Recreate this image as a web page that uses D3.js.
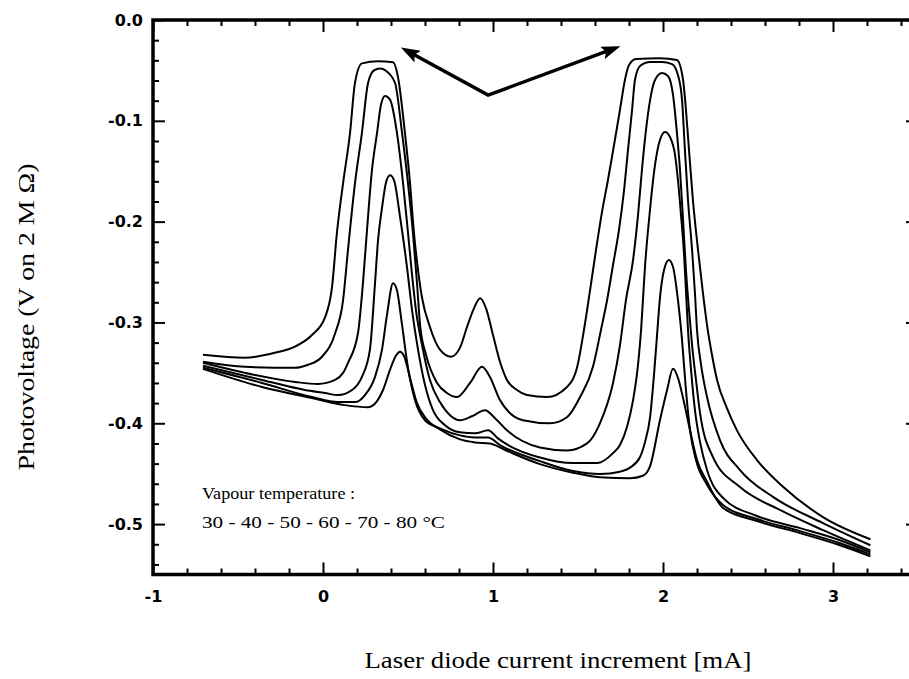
<!DOCTYPE html>
<html>
<head>
<meta charset="utf-8">
<script src="https://cdn.jsdelivr.net/npm/d3@7"></script>
<style>
  body { margin: 0; background: #fff; }
  svg { display: block; }
</style>
</head>
<body>
<svg id="chart" width="909" height="679"></svg>
<script>
// Absorption spectra: photovoltage across 2 MΩ while the laser-diode current is swept,
// one trace per vapour temperature.
const temps = [30, 40, 50, 60, 70, 80];

// [current increment (mA), photovoltage (V)]
const t80 = [[-0.706,-0.332],[-0.459,-0.335],[-0.282,-0.330],[-0.165,-0.324],[-0.065,-0.3125],[0.012,-0.295],[0.053,-0.265],[0.082,-0.211],[0.118,-0.162],[0.159,-0.112],[0.188,-0.0625],[0.229,-0.043],[0.324,-0.041],[0.412,-0.042],[0.441,-0.0565],[0.482,-0.112],[0.512,-0.162],[0.535,-0.211],[0.559,-0.248],[0.582,-0.275],[0.629,-0.3045],[0.688,-0.327],[0.753,-0.334],[0.806,-0.325],[0.847,-0.3045],[0.888,-0.286],[0.924,-0.276],[0.959,-0.286],[1.000,-0.3125],[1.041,-0.339],[1.082,-0.357],[1.141,-0.367],[1.200,-0.372],[1.318,-0.374],[1.435,-0.364],[1.494,-0.345],[1.535,-0.3075],[1.571,-0.268],[1.606,-0.228],[1.641,-0.1905],[1.676,-0.159],[1.712,-0.124],[1.747,-0.089],[1.776,-0.0595],[1.800,-0.0446],[1.841,-0.0387],[1.982,-0.038],[2.082,-0.0397],[2.118,-0.0595],[2.135,-0.089],[2.153,-0.129],[2.176,-0.1786],[2.206,-0.228],[2.235,-0.271],[2.259,-0.3026],[2.288,-0.332],[2.318,-0.357],[2.376,-0.385],[2.435,-0.407],[2.553,-0.4365],[2.706,-0.463],[2.941,-0.493],[3.22,-0.515]];

const t70 = [[-0.706,-0.339],[-0.459,-0.344],[-0.165,-0.345],[-0.088,-0.342],[-0.006,-0.334],[0.071,-0.311],[0.118,-0.278],[0.147,-0.228],[0.188,-0.162],[0.229,-0.112],[0.265,-0.0625],[0.300,-0.050],[0.335,-0.048],[0.382,-0.052],[0.424,-0.0625],[0.465,-0.112],[0.500,-0.162],[0.529,-0.211],[0.553,-0.261],[0.571,-0.3025],[0.606,-0.332],[0.671,-0.360],[0.729,-0.370],[0.788,-0.374],[0.865,-0.360],[0.935,-0.344],[0.982,-0.354],[1.041,-0.377],[1.176,-0.397],[1.335,-0.400],[1.435,-0.394],[1.512,-0.374],[1.588,-0.344],[1.635,-0.3075],[1.671,-0.278],[1.706,-0.243],[1.741,-0.2083],[1.771,-0.1687],[1.794,-0.129],[1.818,-0.0893],[1.835,-0.0595],[1.865,-0.0456],[1.924,-0.0417],[1.994,-0.0417],[2.053,-0.0437],[2.088,-0.0546],[2.112,-0.0794],[2.129,-0.129],[2.147,-0.1786],[2.171,-0.228],[2.188,-0.271],[2.200,-0.3075],[2.224,-0.342],[2.259,-0.374],[2.335,-0.4167],[2.453,-0.4464],[2.647,-0.473],[2.941,-0.499],[3.22,-0.521]];

const t60 = [[-0.706,-0.340],[-0.459,-0.350],[-0.165,-0.359],[-0.029,-0.361],[0.071,-0.357],[0.118,-0.350],[0.147,-0.340],[0.206,-0.3105],[0.235,-0.261],[0.259,-0.208],[0.288,-0.149],[0.318,-0.112],[0.341,-0.084],[0.365,-0.0754],[0.394,-0.079],[0.435,-0.112],[0.471,-0.162],[0.500,-0.211],[0.524,-0.253],[0.547,-0.288],[0.582,-0.322],[0.629,-0.357],[0.688,-0.379],[0.747,-0.392],[0.806,-0.397],[0.876,-0.393],[0.953,-0.387],[1.012,-0.395],[1.082,-0.407],[1.276,-0.424],[1.435,-0.427],[1.553,-0.420],[1.629,-0.400],[1.706,-0.360],[1.747,-0.3224],[1.782,-0.2778],[1.824,-0.238],[1.853,-0.1935],[1.876,-0.1488],[1.900,-0.109],[1.924,-0.0794],[1.953,-0.0595],[1.994,-0.0526],[2.029,-0.0556],[2.059,-0.0744],[2.082,-0.112],[2.100,-0.1488],[2.118,-0.1984],[2.135,-0.248],[2.153,-0.2877],[2.171,-0.3224],[2.194,-0.357],[2.218,-0.390],[2.294,-0.4335],[2.453,-0.4633],[2.688,-0.486],[2.941,-0.506],[3.22,-0.526]];

const t50 = [[-0.706,-0.343],[-0.359,-0.357],[-0.106,-0.367],[0.012,-0.370],[0.088,-0.372],[0.171,-0.367],[0.229,-0.354],[0.276,-0.327],[0.306,-0.261],[0.324,-0.218],[0.347,-0.1865],[0.371,-0.161],[0.394,-0.154],[0.418,-0.159],[0.453,-0.195],[0.494,-0.245],[0.524,-0.288],[0.559,-0.327],[0.600,-0.362],[0.647,-0.387],[0.718,-0.402],[0.806,-0.409],[0.894,-0.410],[0.971,-0.407],[1.029,-0.415],[1.082,-0.421],[1.276,-0.434],[1.471,-0.4395],[1.612,-0.4395],[1.706,-0.4296],[1.747,-0.4216],[1.788,-0.4038],[1.824,-0.377],[1.853,-0.342],[1.871,-0.3075],[1.882,-0.2778],[1.894,-0.245],[1.912,-0.2083],[1.929,-0.1786],[1.953,-0.1438],[1.982,-0.119],[2.012,-0.111],[2.041,-0.116],[2.071,-0.134],[2.088,-0.1587],[2.106,-0.1935],[2.124,-0.233],[2.135,-0.268],[2.147,-0.3075],[2.165,-0.347],[2.188,-0.387],[2.218,-0.4187],[2.259,-0.4464],[2.353,-0.474],[2.553,-0.492],[2.806,-0.504],[3.041,-0.516],[3.22,-0.528]];

const t40 = [[-0.706,-0.345],[-0.359,-0.360],[-0.065,-0.374],[0.088,-0.379],[0.188,-0.379],[0.247,-0.372],[0.306,-0.354],[0.347,-0.327],[0.376,-0.293],[0.412,-0.261],[0.435,-0.268],[0.465,-0.3025],[0.500,-0.345],[0.541,-0.377],[0.600,-0.397],[0.688,-0.405],[0.806,-0.412],[0.894,-0.414],[0.971,-0.414],[1.041,-0.4216],[1.276,-0.4375],[1.471,-0.4474],[1.629,-0.4504],[1.747,-0.448],[1.806,-0.444],[1.865,-0.4335],[1.894,-0.4187],[1.924,-0.394],[1.947,-0.352],[1.965,-0.3125],[1.982,-0.2758],[2.006,-0.248],[2.035,-0.238],[2.059,-0.245],[2.088,-0.2778],[2.112,-0.3175],[2.135,-0.367],[2.159,-0.4067],[2.194,-0.4365],[2.259,-0.461],[2.353,-0.481],[2.553,-0.495],[2.806,-0.507],[3.041,-0.519],[3.22,-0.530]];

const t30 = [[-0.706,-0.346],[-0.359,-0.364],[-0.065,-0.375],[0.129,-0.382],[0.265,-0.384],[0.318,-0.378],[0.353,-0.367],[0.394,-0.347],[0.429,-0.333],[0.453,-0.329],[0.476,-0.333],[0.512,-0.355],[0.553,-0.380],[0.600,-0.394],[0.688,-0.406],[0.806,-0.416],[0.894,-0.419],[0.982,-0.420],[1.071,-0.4265],[1.276,-0.4405],[1.471,-0.449],[1.629,-0.4535],[1.806,-0.4545],[1.882,-0.452],[1.924,-0.4425],[1.982,-0.397],[2.024,-0.367],[2.059,-0.346],[2.088,-0.355],[2.118,-0.375],[2.159,-0.407],[2.200,-0.4365],[2.259,-0.458],[2.353,-0.484],[2.553,-0.497],[2.806,-0.509],[3.041,-0.521],[3.22,-0.532]];

const traces = [t30, t40, t50, t60, t70, t80];

const xMajor = [-1, 0, 1, 2, 3];
const xTickLabels = ["-1", "0", "1", "2", "3"];
const yMajor = [0, -0.1, -0.2, -0.3, -0.4, -0.5];
const yTickLabels = ["0.0", "-0.1", "-0.2", "-0.3", "-0.4", "-0.5"];

// Double-headed arrow pointing at the two strong absorption lines: left tip, vertex, right tip
const arrowPts = [[0.488, -0.030], [0.971, -0.0745], [1.718, -0.028]];

const svg = d3.select("#chart");
const plotL = 153, plotR = 918, plotT = 20, plotB = 574.5;

const x = d3.scaleLinear().domain([-1, 3.5]).range([plotL, plotR]);
const y = d3.scaleLinear().domain([-0.55, 0]).range([plotB, plotT]);

const xMinor = d3.range(-1, 3.5001, 0.2).map(v => +v.toFixed(2)).filter(v => !xMajor.some(m => Math.abs(m - v) < 1e-6));
const yMinor = d3.range(0, -0.5501, -0.02).map(v => +v.toFixed(2)).filter(v => !yMajor.some(m => Math.abs(m - v) < 1e-6));

const tickFont = "'DejaVu Sans', 'Liberation Sans', sans-serif";
const serif = "'Liberation Serif', 'Times New Roman', serif";

function styleAxis(g) {
  g.select(".domain").remove();
  g.selectAll(".tick line").attr("stroke", "#000").attr("stroke-width", 2);
  g.selectAll(".tick text").attr("fill", "#000")
    .style("font-family", tickFont).style("font-size", "16px").style("font-weight", "bold");
}

// bottom axis: inward ticks, labels below
svg.append("g").attr("transform", `translate(0,${plotB})`)
  .call(d3.axisBottom(x).tickValues(xMinor).tickSize(-6).tickFormat(""))
  .call(styleAxis);
svg.append("g").attr("transform", `translate(0,${plotB})`)
  .call(d3.axisBottom(x).tickValues(xMajor).tickSize(-12).tickPadding(16)
    .tickFormat((d, i) => xTickLabels[i]))
  .call(styleAxis);

// top axis: ticks only
svg.append("g").attr("transform", `translate(0,${plotT})`)
  .call(d3.axisTop(x).tickValues(xMinor).tickSize(-6).tickFormat(""))
  .call(styleAxis);
svg.append("g").attr("transform", `translate(0,${plotT})`)
  .call(d3.axisTop(x).tickValues(xMajor).tickSize(-12).tickFormat(""))
  .call(styleAxis);

// left axis
svg.append("g").attr("transform", `translate(${plotL},0)`)
  .call(d3.axisLeft(y).tickValues(yMinor).tickSize(-6).tickFormat(""))
  .call(styleAxis);
svg.append("g").attr("transform", `translate(${plotL},0)`)
  .call(d3.axisLeft(y).tickValues(yMajor).tickSize(-12).tickPadding(10)
    .tickFormat((d, i) => yTickLabels[i]))
  .call(styleAxis);

// right axis
svg.append("g").attr("transform", `translate(${plotR},0)`)
  .call(d3.axisRight(y).tickValues(yMinor).tickSize(-6).tickFormat(""))
  .call(styleAxis);
svg.append("g").attr("transform", `translate(${plotR},0)`)
  .call(d3.axisRight(y).tickValues(yMajor).tickSize(-12).tickFormat(""))
  .call(styleAxis);

// plot frame
svg.append("rect")
  .attr("x", plotL).attr("y", plotT)
  .attr("width", plotR - plotL).attr("height", plotB - plotT)
  .attr("fill", "none").attr("stroke", "#000").attr("stroke-width", 3.5);

// traces
const line = d3.line().x(d => x(d[0])).y(d => y(d[1])).curve(d3.curveMonotoneX);
svg.append("g").selectAll("path").data(traces).join("path")
  .attr("d", line)
  .attr("fill", "none").attr("stroke", "#000").attr("stroke-width", 2)
  .attr("stroke-linejoin", "round");

// arrow
const defs = svg.append("defs");
defs.append("marker").attr("id", "head")
  .attr("viewBox", "0 0 10 10").attr("refX", 7).attr("refY", 5)
  .attr("markerWidth", 5.5).attr("markerHeight", 3.8)
  .attr("preserveAspectRatio", "none")
  .attr("markerUnits", "strokeWidth")
  .attr("orient", "auto-start-reverse")
  .append("path").attr("d", "M0,0 L10,5 L0,10 L2,5 Z").attr("fill", "#000");
svg.append("path")
  .attr("d", d3.line().x(d => x(d[0])).y(d => y(d[1]))(arrowPts))
  .attr("fill", "none").attr("stroke", "#000").attr("stroke-width", 3.5)
  .attr("stroke-linejoin", "miter")
  .attr("marker-start", "url(#head)").attr("marker-end", "url(#head)");

// annotation
const note = svg.append("text")
  .attr("x", 202).attr("y", 499)
  .style("font-family", serif).style("font-size", "17px").attr("fill", "#000");
note.append("tspan").attr("x", 202)
  .attr("textLength", 153).attr("lengthAdjust", "spacingAndGlyphs")
  .text("Vapour temperature :");
note.append("tspan").attr("x", 202).attr("dy", 29)
  .attr("textLength", 243).attr("lengthAdjust", "spacingAndGlyphs")
  .text(temps.join(" - ") + " °C");

// axis titles
svg.append("text")
  .attr("x", 558).attr("y", 668).attr("text-anchor", "middle")
  .attr("textLength", 387).attr("lengthAdjust", "spacingAndGlyphs")
  .style("font-family", serif).style("font-size", "24px").attr("fill", "#000")
  .text("Laser diode current increment [mA]");

svg.append("text")
  .attr("transform", "translate(34,317) rotate(-90)").attr("text-anchor", "middle")
  .attr("textLength", 307).attr("lengthAdjust", "spacingAndGlyphs")
  .style("font-family", serif).style("font-size", "24px").attr("fill", "#000")
  .text("Photovoltage (V on 2 M Ω)");
</script>
</body>
</html>
